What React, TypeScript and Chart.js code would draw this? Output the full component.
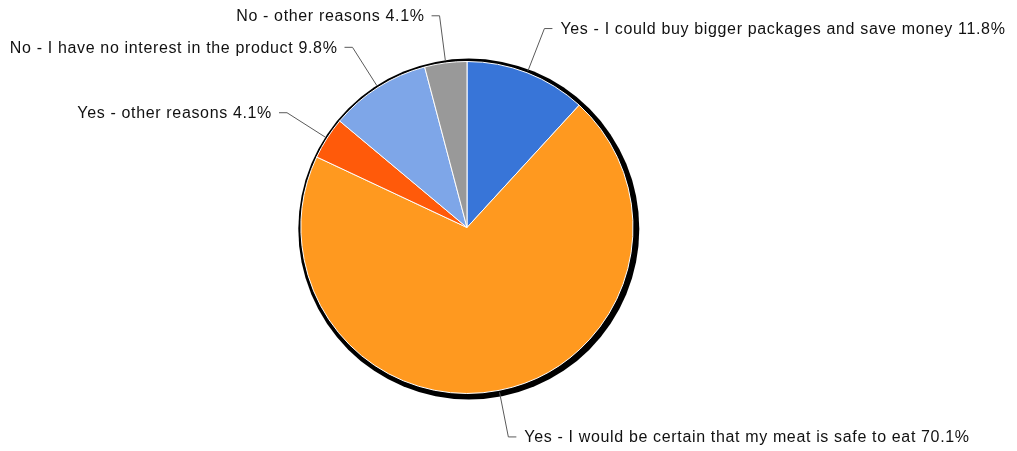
import React, { useEffect, useRef } from "react";
import { Chart, registerables } from "chart.js";

Chart.register(...registerables);

const categories = [
  "Yes - I could buy bigger packages and save money",
  "Yes - I would be certain that my meat is safe to eat",
  "Yes - other reasons",
  "No - I have no interest in the product",
  "No - other reasons",
];
const shares = [11.8, 70.1, 4.1, 9.8, 4.1];
const sliceColors = ["#3875d8", "#ff991f", "#ff5a0a", "#7ea6e8", "#999999"];

const FONT = '16px "Liberation Sans", Arial, sans-serif';

const piePlugin = {
  id: "pieDecor",
  beforeDatasetsDraw(chart: any) {
    const meta = chart.getDatasetMeta(0);
    const arc = meta.data[0];
    if (!arc) return;
    const { x, y, outerRadius } = arc.getProps(["x", "y", "outerRadius"], true);
    const ctx = chart.ctx;
    ctx.save();
    ctx.beginPath();
    ctx.arc(x + 1.8, y + 1.6, outerRadius + 4.5, 0, Math.PI * 2);
    ctx.fillStyle = "#000";
    ctx.fill();
    ctx.restore();
  },
  afterDatasetsDraw(chart: any) {
    const meta = chart.getDatasetMeta(0);
    const ctx = chart.ctx;
    ctx.save();
    ctx.font = FONT;
    try {
      (ctx as any).letterSpacing = "0.65px";
    } catch (e) {}
    ctx.strokeStyle = "#5a5a5a";
    ctx.lineWidth = 1;
    ctx.fillStyle = "#111111";
    ctx.textBaseline = "middle";
    meta.data.forEach((arc: any, i: number) => {
      const { x, y, startAngle, endAngle, outerRadius } = arc.getProps(
        ["x", "y", "startAngle", "endAngle", "outerRadius"],
        true
      );
      const a = (startAngle + endAngle) / 2;
      const r0 = outerRadius + 2;
      const r1 = outerRadius * 1.286;
      const sx = x + Math.cos(a) * r0;
      const sy = y + Math.sin(a) * r0;
      const ex = x + Math.cos(a) * r1;
      const ey = y + Math.sin(a) * r1;
      const right = Math.cos(a) >= 0;
      const hx = ex + (right ? 8 : -8);
      ctx.beginPath();
      ctx.moveTo(sx, sy);
      ctx.lineTo(ex, ey);
      ctx.lineTo(hx, ey);
      ctx.stroke();
      const text = `${categories[i]} ${shares[i].toFixed(1)}%`;
      ctx.textAlign = right ? "left" : "right";
      ctx.fillText(text, hx + (right ? 8 : -7), ey + 1);
    });
    ctx.restore();
  },
};

export default function App() {
  const ref = useRef<HTMLCanvasElement>(null);
  useEffect(() => {
    if (!ref.current) return;
    const chart = new Chart(ref.current, {
      type: "pie",
      data: {
        labels: categories,
        datasets: [
          {
            data: shares,
            backgroundColor: sliceColors,
            borderColor: "#ffffff",
            borderWidth: 1,
          },
        ],
      },
      options: {
        responsive: false,
        animation: false,
        radius: 166,
        layout: { padding: { left: 300, right: 383, top: 60, bottom: 56 } },
        plugins: {
          legend: { display: false },
          tooltip: { enabled: false },
        },
      } as any,
      plugins: [piePlugin],
    });
    return () => chart.destroy();
  }, []);
  return (
    <div style={{ position: "fixed", left: 0, top: 0, width: 1017, height: 451, background: "#fff" }}>
      <canvas ref={ref} width={1017} height={451} />
    </div>
  );
}
